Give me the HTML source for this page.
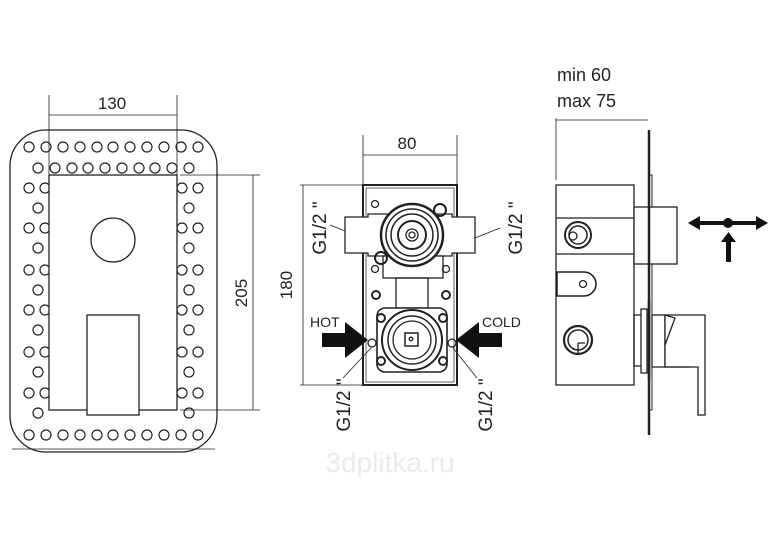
<!DOCTYPE html>
<html><head><style>html,body{margin:0;padding:0;background:#fff}svg{display:block}</style></head>
<body>
<svg width="777" height="553" viewBox="0 0 777 553" xmlns="http://www.w3.org/2000/svg" font-family="Liberation Sans, sans-serif">
<g fill="none" stroke="#222" stroke-width="1.3">
<rect x="10" y="130" width="207" height="322" rx="36"/>
<line x1="12" y1="449" x2="215" y2="449" stroke-width="0.8"/>
<g id="dots" stroke-width="1.2">
<g id="toprow">
<circle cx="29" cy="147" r="5"/><circle cx="46" cy="147" r="5"/><circle cx="63" cy="147" r="5"/><circle cx="80" cy="147" r="5"/><circle cx="97" cy="147" r="5"/><circle cx="113" cy="147" r="5"/><circle cx="130" cy="147" r="5"/><circle cx="147" cy="147" r="5"/><circle cx="164" cy="147" r="5"/><circle cx="181" cy="147" r="5"/><circle cx="198" cy="147" r="5"/>
</g>
<circle cx="38" cy="168" r="5"/><circle cx="55" cy="168" r="5"/><circle cx="72" cy="168" r="5"/><circle cx="88" cy="168" r="5"/><circle cx="105" cy="168" r="5"/><circle cx="122" cy="168" r="5"/><circle cx="139" cy="168" r="5"/><circle cx="155" cy="168" r="5"/><circle cx="172" cy="168" r="5"/><circle cx="189" cy="168" r="5"/>
<use href="#toprow" y="288"/>
<g id="lcol">
<circle cx="29" cy="188" r="5"/><circle cx="45" cy="188" r="5"/><circle cx="38" cy="208" r="5"/>
<circle cx="29" cy="228" r="5"/><circle cx="45" cy="228" r="5"/><circle cx="38" cy="248" r="5"/>
<circle cx="29" cy="270" r="5"/><circle cx="45" cy="270" r="5"/><circle cx="38" cy="290" r="5"/>
<circle cx="29" cy="310" r="5"/><circle cx="45" cy="310" r="5"/><circle cx="38" cy="330" r="5"/>
<circle cx="29" cy="352" r="5"/><circle cx="45" cy="352" r="5"/><circle cx="38" cy="372" r="5"/>
<circle cx="29" cy="393" r="5"/><circle cx="45" cy="393" r="5"/><circle cx="38" cy="413" r="5"/>
</g>
<use href="#lcol" transform="translate(227,0) scale(-1,1)"/>
</g>
<rect x="49" y="175" width="128" height="235" fill="#fff"/>
<circle cx="113" cy="240" r="22"/>
<rect x="87" y="315" width="52" height="100" fill="#fff"/>
<line x1="49" y1="95" x2="49" y2="175" stroke-width="0.8"/>
<line x1="177" y1="95" x2="177" y2="175" stroke-width="0.8"/>
<line x1="49" y1="115" x2="177" y2="115" stroke-width="0.8"/>
<line x1="180" y1="175" x2="260" y2="175" stroke-width="0.8"/>
<line x1="180" y1="410" x2="260" y2="410" stroke-width="0.8"/>
<line x1="253" y1="175" x2="253" y2="410" stroke-width="0.8"/>

<rect x="363" y="185" width="94" height="200" stroke-width="2"/>
<rect x="366" y="188" width="88" height="194" stroke-width="0.7"/>
<line x1="363" y1="135" x2="363" y2="185" stroke-width="0.8"/>
<line x1="457" y1="135" x2="457" y2="185" stroke-width="0.8"/>
<line x1="363" y1="155" x2="457" y2="155" stroke-width="0.8"/>
<line x1="300" y1="185" x2="363" y2="185" stroke-width="0.8"/>
<line x1="300" y1="385" x2="363" y2="385" stroke-width="0.8"/>
<line x1="303" y1="185" x2="303" y2="385" stroke-width="0.8"/>
<path d="M345 217 H368 V214 H452 V217 H475 V253 H452 V256 H368 V253 H345 Z" fill="#fff"/>
<rect x="383" y="256" width="60" height="22" fill="#fff"/>
<rect x="396" y="278" width="32" height="30"/>
<circle cx="412" cy="235" r="31" stroke-width="2.5" fill="#fff"/>
<circle cx="412" cy="235" r="26" stroke-width="1.5"/>
<circle cx="412" cy="235" r="21" stroke-width="1.5"/>
<circle cx="412" cy="235" r="14" stroke-width="2"/>
<circle cx="412" cy="235" r="6"/><circle cx="412" cy="235" r="3"/>
<circle cx="440" cy="210" r="6" stroke-width="2"/><circle cx="381" cy="258" r="6" stroke-width="2"/>
<circle cx="375" cy="204" r="3.5"/><circle cx="446" cy="269" r="3.5"/><circle cx="375" cy="269" r="3.5"/>
<circle cx="376" cy="295" r="4" stroke-width="2"/><circle cx="446" cy="295" r="4" stroke-width="2"/>
<rect x="377" y="308" width="70" height="64" rx="8" fill="#fff" stroke-width="1.6"/>
<circle cx="412" cy="340" r="30" stroke-width="2"/>
<circle cx="412" cy="340" r="24" stroke-width="1.5"/>
<circle cx="412" cy="340" r="19"/>
<rect x="405" y="333" width="13" height="13" stroke-width="1.5"/>
<circle cx="411" cy="339" r="1.8"/>
<circle cx="372" cy="343" r="4"/><circle cx="452" cy="343" r="4"/>
<circle cx="381" cy="361" r="4" stroke-width="2"/><circle cx="443" cy="361" r="4" stroke-width="2"/>
<circle cx="381" cy="318" r="4" stroke-width="2"/><circle cx="443" cy="318" r="4" stroke-width="2"/>
<line x1="330" y1="225" x2="345" y2="231" stroke-width="0.8"/>
<line x1="475" y1="238" x2="500" y2="228" stroke-width="0.8"/>
<line x1="343" y1="378" x2="371" y2="348" stroke-width="0.8"/>
<line x1="453" y1="348" x2="477" y2="378" stroke-width="0.8"/>

<line x1="556" y1="118" x2="556" y2="180" stroke-width="0.8"/>
<line x1="556" y1="120" x2="648" y2="120" stroke-width="0.8"/>
<rect x="556" y="185" width="78" height="200"/>
<line x1="649" y1="130" x2="649" y2="435" stroke-width="2.5"/>
<rect x="649" y="175" width="3" height="235" stroke-width="1"/>
<rect x="634" y="207" width="43" height="57" fill="#fff"/>
<line x1="649" y1="207" x2="649" y2="264" stroke-width="2.5"/>
<line x1="556" y1="218" x2="634" y2="218"/>
<line x1="556" y1="254" x2="634" y2="254"/>
<circle cx="578" cy="235" r="13" stroke-width="2"/>
<circle cx="578" cy="235" r="9" stroke-width="1.5"/>
<circle cx="573" cy="236" r="4"/>
<path d="M557 272 H584 A12 12 0 0 1 584 296 H557 Z" stroke-width="1.6"/>
<circle cx="583" cy="284" r="3.5"/>
<circle cx="578" cy="340" r="14" stroke-width="2.2"/>
<circle cx="578" cy="340" r="10" stroke-width="1.5"/>
<path d="M578 343 H585 M578 343 V353"/>
<rect x="634" y="315" width="8" height="51"/>
<rect x="641" y="309" width="6" height="64" fill="#fff"/>
<line x1="649" y1="300" x2="649" y2="380" stroke-width="2.5"/>
<rect x="652" y="315" width="13" height="52"/>
<path d="M665 315 H705 V415 H698 V367 H665 Z" fill="#fff"/>
<path d="M665 315 L675 318 L665 345" />
<line x1="665" y1="367" x2="690" y2="367"/>
</g>
<g fill="#111">
<path d="M322 333 H345 V322 L368 340 L345 358 V347 H322 Z"/>
<path d="M502 333 H479 V322 L456 340 L479 358 V347 H502 Z"/>
<rect x="698" y="221" width="60" height="4"/>
<path d="M688 223 L700 216 V230 Z"/><path d="M768 223 L756 216 V230 Z"/>
<circle cx="728" cy="223" r="5"/>
<rect x="726" y="240" width="5" height="22"/><path d="M728.5 232 L721 242 H736 Z"/>
</g>
<g fill="#222" font-size="17">
<text x="112" y="109" text-anchor="middle">130</text>
<text transform="translate(247,293) rotate(-90)" text-anchor="middle">205</text>
<text x="407" y="149" text-anchor="middle">80</text>
<text transform="translate(292,285) rotate(-90)" text-anchor="middle">180</text>
<text transform="translate(326,228) rotate(-90)" text-anchor="middle" font-size="19">G1/2 "</text>
<text transform="translate(522,228) rotate(-90)" text-anchor="middle" font-size="19">G1/2 "</text>
<text transform="translate(350,405) rotate(-90)" text-anchor="middle" font-size="19">G1/2 "</text>
<text transform="translate(492,405) rotate(-90)" text-anchor="middle" font-size="19">G1/2 "</text>
<text x="310" y="327" font-size="14">HOT</text>
<text x="482" y="327" font-size="14">COLD</text>
<text x="557" y="81" font-size="18">min 60</text>
<text x="557" y="107" font-size="18">max  75</text>
</g>
<text x="390" y="472" text-anchor="middle" font-size="28" fill="#ebebeb">3dplitka.ru</text>
</svg>
</body></html>
